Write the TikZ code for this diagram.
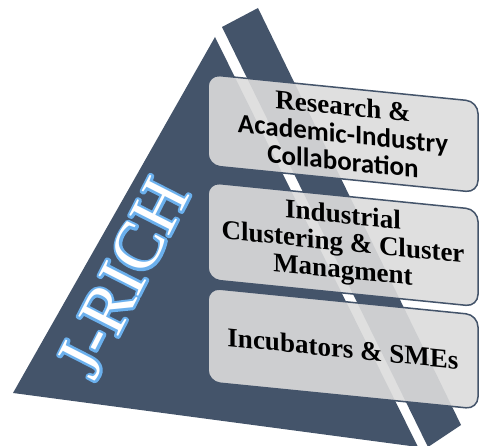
\documentclass[tikz,border=0pt]{standalone}
\usepackage{fontspec}
\setmainfont{Liberation Serif}
\newfontfamily\calibrifont{Carlito}
\usetikzlibrary{positioning}

\definecolor{slate}{HTML}{44546A}
\definecolor{boxgray}{HTML}{DCDCDC}
\definecolor{glowblue}{HTML}{5B9BD5}

% outline text in light blue, used for the glow round the title
\newcommand{\glowtext}[1]{\special{pdf:literal direct 1 Tr 5 w 1 j 0.42 0.69 0.93 RG}#1\special{pdf:literal direct 0 Tr}}

\tikzset{
  layer/.style={draw=slate, line width=1.5pt, fill=boxgray, fill opacity=0.9, text opacity=1,
    rounded corners=12pt, minimum width=270pt, inner sep=0pt, transform shape, align=center,
    font=\bfseries\fontsize{27}{27.5}\selectfont},
  title/.style={rotate=63, font=\fontsize{68}{68}\selectfont}
}

\begin{document}
\begin{tikzpicture}[x=1pt, y=-1pt]
  \useasboundingbox (0,0) rectangle (480,446);

  % pyramid faces
  \fill[slate] (215,37) -- (13,393) -- (418,447) -- cycle;
  \fill[slate] (222,27) -- (258,8) -- (461,425) -- (428,447) -- cycle;

  % title with glow
  \node[title, text=glowblue] (glow) at (123,278) {\glowtext{J-RICH}};
  \node[title, text=white] (jrich) at (123,278) {J-RICH};

  % the three layers
  \begin{scope}[shift={(208,0)}, yslant=-0.1]
    \node[layer, minimum height=91pt] (research) at (135,120)
      {Research \&\\{\calibrifont Academic-Industry}\\{\calibrifont Collaboration}};
    \node[layer, minimum height=97pt] (cluster) at (135,231)
      {Industrial\\Clustering \& Cluster\\Managment};
    \node[layer, minimum height=94pt] (incubator) at (135,335)
      {Incubators \& SMEs};
  \end{scope}
\end{tikzpicture}
\end{document}
